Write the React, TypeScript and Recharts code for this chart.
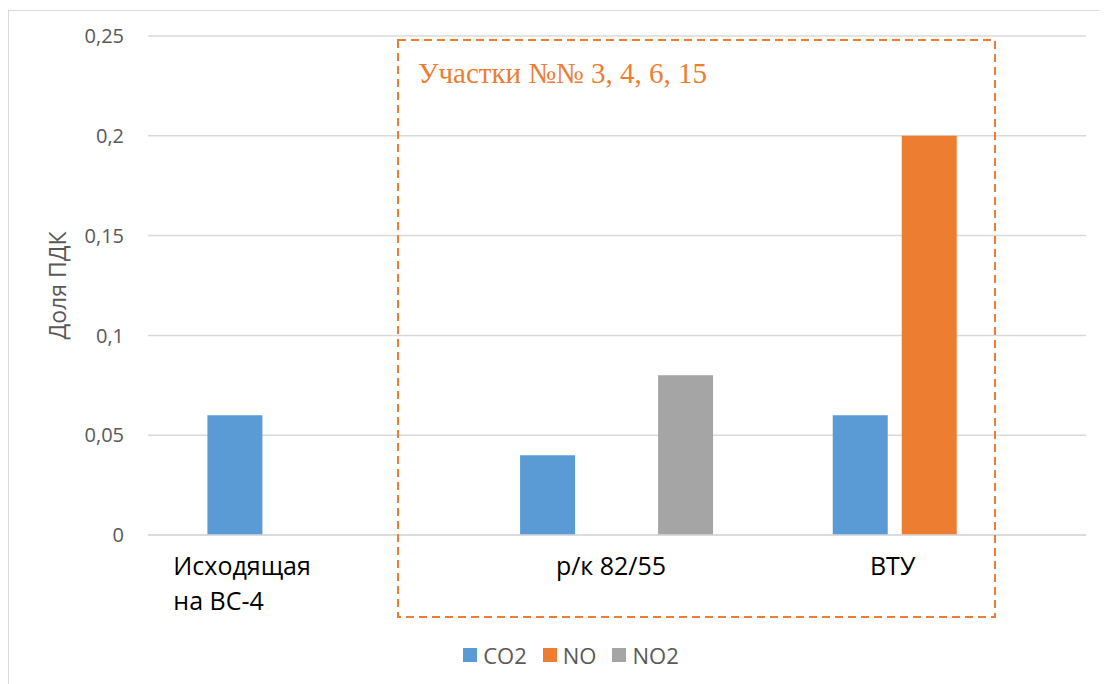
import { BarChart, Bar, XAxis, YAxis, CartesianGrid, Legend } from "recharts"

const categories = ["Исходящая на ВС-4", "р/к 82/55", "ВТУ"]
const co2 = [0.06, 0.04, 0.06]
const no = [0, 0, 0.2]
const no2 = [0, 0.08, 0]
const yTicks = [0, 0.05, 0.1, 0.15, 0.2, 0.25]

const data = categories.map((name, i) => ({
  name,
  CO2: co2[i],
  NO: no[i],
  NO2: no2[i],
}))

const series = [
  { key: "CO2", color: "#5B9BD5" },
  { key: "NO", color: "#ED7D31" },
  { key: "NO2", color: "#A5A5A5" },
]

const fmt = (v: number) => String(v).replace(".", ",")

function CategoryTick(props: any) {
  const { x, y, payload, index } = props
  const lines =
    index === 0 ? ["Исходящая", "на ВС-4"] : [payload.value as string]
  // Excel placed the labels slightly off-centre
  const anchor = index === 0 ? "start" : "middle"
  const shift = index === 0 ? -131 : index === 1 ? -6 : -37
  return (
    <text
      x={x + shift}
      y={y + 32}
      textAnchor={anchor}
      fontFamily="'Open Sans', sans-serif"
      fontSize={25}
      fill="#000"
    >
      {lines.map((l, i) => (
        <tspan key={i} x={x + shift} dy={i === 0 ? 0 : 35}>
          {l}
        </tspan>
      ))}
    </text>
  )
}

function LegendContent() {
  return (
    <div
      style={{
        display: "flex",
        justifyContent: "center",
        alignItems: "center",
        fontFamily: "'Open Sans', sans-serif",
        fontSize: 22,
        color: "#595959",
        paddingLeft: 54,
      }}
    >
      {series.map((s) => (
        <div
          key={s.key}
          style={{ display: "flex", alignItems: "center", marginRight: 16 }}
        >
          <span
            style={{
              width: 14,
              height: 14,
              background: s.color,
              display: "inline-block",
              marginRight: 6,
            }}
          />
          {s.key}
        </div>
      ))}
    </div>
  )
}

export default function App() {
  return (
    <div
      style={{
        position: "relative",
        marginTop: 2,
        width: 1099,
        height: 674,
        borderTop: "1px solid #d9d9d9",
        borderLeft: "1px solid #d9d9d9",
        background: "#fff",
      }}
    >
      <BarChart
        width={1098}
        height={673}
        data={data}
        margin={{ top: 25, right: 21, bottom: 0, left: 9 }}
        barCategoryGap="19%"
        barGap={14}
      >
        <CartesianGrid vertical={false} stroke="#d9d9d9" strokeWidth={1.5} />
        <XAxis
          dataKey="name"
          axisLine={{ stroke: "#d9d9d9", strokeWidth: 1.5 }}
          tickLine={false}
          tick={<CategoryTick />}
          interval={0}
          height={119}
        />
        <YAxis
          width={130}
          domain={[0, 0.25]}
          ticks={yTicks}
          tickFormatter={fmt}
          axisLine={false}
          tickLine={false}
          tickMargin={18}
          tick={{ fill: "#595959", fontSize: 20, fontFamily: "'Open Sans', sans-serif" }}
          label={{
            value: "Доля ПДК",
            angle: -90,
            position: "insideLeft",
            offset: 40,
            style: {
              textAnchor: "middle",
              fill: "#595959",
              fontSize: 23,
              fontFamily: "'Open Sans', sans-serif",
            },
          }}
        />
        <Legend
          verticalAlign="bottom"
          content={<LegendContent />}
          wrapperStyle={{ bottom: 14 }}
        />
        {series.map((s) => (
          <Bar
            key={s.key}
            dataKey={s.key}
            fill={s.color}
            isAnimationActive={false}
          />
        ))}
      </BarChart>
      <svg
        width={1098}
        height={673}
        style={{ position: "absolute", left: 0, top: 0, pointerEvents: "none" }}
      >
        <rect
          x={389}
          y={29}
          width={597}
          height={577}
          fill="none"
          stroke="#ED7D31"
          strokeWidth={2}
          strokeDasharray="8 5"
        />
        <text
          x={409}
          y={72}
          fill="#ED7D31"
          fontSize={29}
          fontFamily="'Liberation Serif', 'Times New Roman', serif"
        >
          Участки №№ 3, 4, 6, 15
        </text>
      </svg>
    </div>
  )
}
